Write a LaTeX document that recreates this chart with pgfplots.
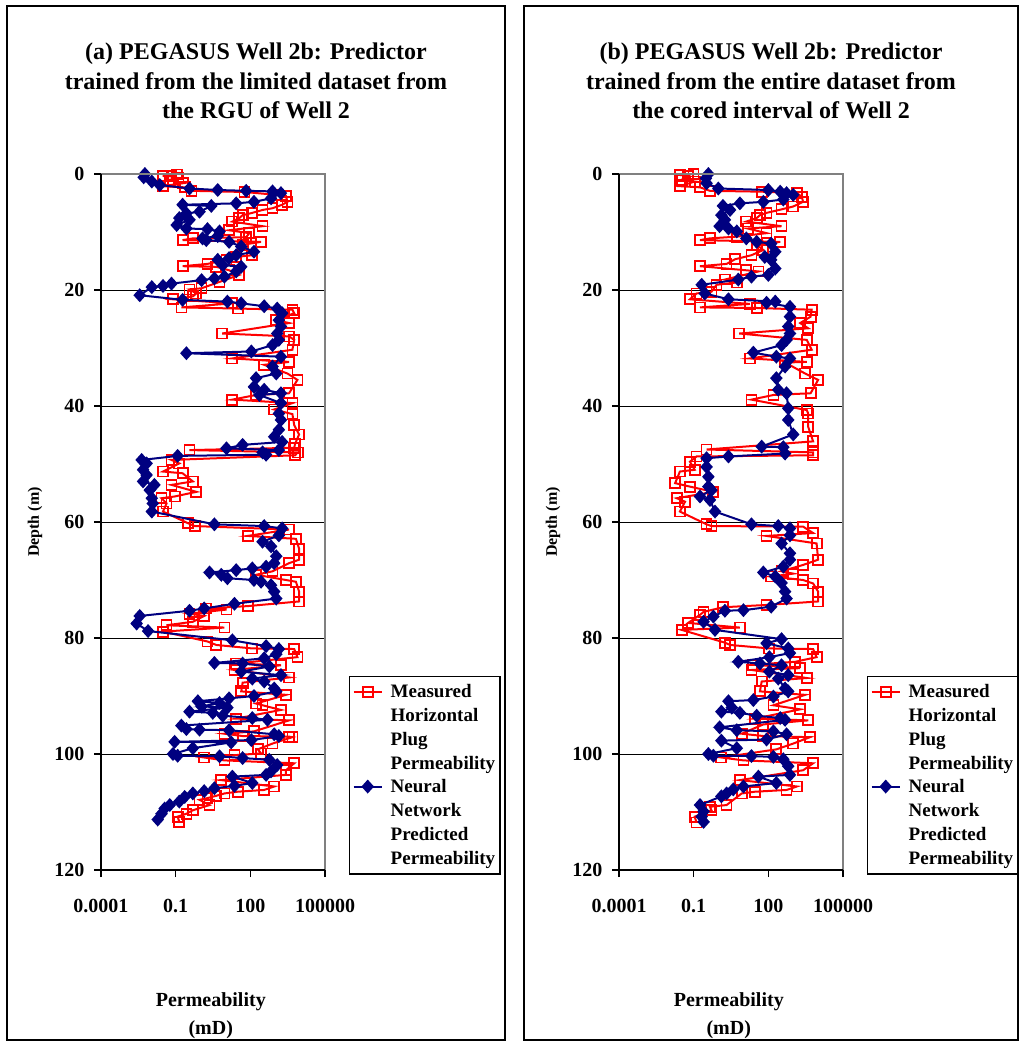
\documentclass[border=0pt]{standalone}
\usepackage{fontspec}
\setmainfont{Liberation Serif}
\usepackage{pgfplots}
\usepackage{pgfplotstable}
\pgfplotsset{compat=1.18}
\definecolor{mred}{RGB}{255,0,0}
\definecolor{mnavy}{RGB}{0,0,128}
\definecolor{agray}{RGB}{128,128,128}

\pgfplotstableread{
k depth
0.11 0.1
0.03 0.34
0.068 0.4
0.13 0.75
0.058 1.0
0.19 1.6
0.03 2.1
0.23 2.3
0.43 2.9
58 3.1
1100 3.6
2700 3.8
3100 4.8
1900 5.3
780 5.9
310 6.2
120 6.7
49 7.1
36 7.6
19 8.2
310 9.0
14 9.7
91 10.2
68 10.9
0.49 11.1
0.19 11.4
270 11.7
49 12.2
120 14.0
27 14.3
11 14.8
1.9 15.5
0.19 15.9
4.3 16.0
14 16.6
36 17.4
5.8 18.6
1.1 19.7
0.36 19.9
0.68 20.6
0.49 21.1
0.078 21.6
19 22.3
0.17 23.0
31 23.2
4900 23.4
5800 24.0
1100 25.2
3600 25.7
7.4 27.5
3600 28.0
5800 28.6
4900 30.3
19 31.8
3600 32.4
360 32.9
3100 34.4
7800 35.5
3600 37.8
170 38.1
19 38.9
4900 39.5
910 40.6
4900 41.4
5800 43.3
9100 44.9
6300 46.5
5800 47.2
0.36 47.6
8000 48.0
6300 48.5
0.068 49.3
0.14 49.9
0.031 51.3
0.19 51.6
0.49 53.0
0.068 53.6
0.68 54.8
0.091 55.6
0.027 55.9
0.043 56.8
0.031 58.2
0.31 60.2
0.58 60.7
3600 61.3
78 62.4
6800 62.9
9100 64.6
9100 66.5
3600 67.1
780 68.5
170 69.1
2700 70.0
6800 70.3
9100 72.0
9100 73.7
78 74.5
1.7 74.9
11 75.1
0.36 75.8
1.4 76.2
0.49 77.2
0.043 77.8
9.1 78.2
0.031 78.9
1.9 80.6
4.3 81.2
120 81.8
5800 81.9
7800 83.3
27 84.4
1700 84.7
23 85.5
3600 86.8
49 87.7
43 89.2
2700 89.8
170 91.3
310 91.6
1700 92.4
27 93.9
3600 94.2
140 96.1
9.1 96.5
49 96.9
3600 97.0
4900 97.1
780 98.2
200 99.2
270 99.9
23 100.2
1.4 100.6
9.1 101.1
5800 101.6
2700 102.8
2700 103.6
6.8 104.5
910 105.6
360 106.2
31 106.5
9.1 106.8
4.3 107.2
1.9 107.6
0.91 107.9
2.3 108.8
0.49 109.7
0.27 110.3
0.12 110.8
0.14 111.7
}\redA

\pgfplotstableread{
k depth
0.0058 0.0
0.0052 0.57
0.011 1.3
0.023 1.9
0.36 2.5
4.9 2.76
68 2.9
780 3.0
1700 3.3
680 4.2
140 4.8
27 5.06
0.19 5.3
2.7 5.5
0.91 6.5
0.27 6.8
0.14 7.6
0.36 7.9
0.11 8.8
0.27 9.4
1.9 9.5
5.8 9.9
4.9 10.7
1.2 11.1
1.7 11.4
14 11.7
43 12.5
140 13.4
27 14.0
14 14.5
4.9 14.8
7.8 15.7
43 16.0
27 16.8
9.1 17.7
3.6 18.0
1.1 18.3
0.068 18.9
0.031 19.3
0.011 19.5
0.0036 20.9
0.19 21.7
12 22.0
43 22.3
360 22.8
1200 23.2
1900 24.0
1400 25.2
1700 26.3
1200 27.5
1400 28.6
780 29.5
110 30.6
0.27 30.9
1700 31.5
780 33.2
1100 34.4
170 35.2
140 36.7
360 37.2
1700 37.8
230 38.1
1700 39.5
1400 41.3
1700 42.4
1400 44.1
910 45.3
1900 46.2
49 46.7
11 47.3
1400 47.6
310 48.0
430 48.4
0.12 48.6
0.0043 49.3
0.0068 49.9
0.0049 51.0
0.0068 51.9
0.0049 53.0
0.014 53.6
0.0091 54.5
0.011 55.9
0.012 56.8
0.011 58.2
3.6 60.4
360 60.7
1900 61.1
1400 62.3
310 63.4
680 64.2
1100 65.9
910 67.1
430 67.7
120 68.0
27 68.3
2.3 68.7
6.8 69.1
12 69.7
140 70.0
270 70.3
680 70.9
910 72.0
1100 73.2
23 74.1
1.4 74.9
0.36 75.3
0.0036 76.2
0.0027 77.5
0.0078 78.8
19 80.4
430 81.4
1400 81.9
1100 82.8
360 83.5
3.6 84.3
49 84.4
580 84.9
43 85.8
1700 86.4
120 87.0
360 87.5
910 88.7
1100 89.2
140 90.0
14 90.4
0.78 90.9
5.8 91.2
1.1 91.8
12 92.0
0.36 92.7
3.1 92.9
7.8 93.4
120 93.8
490 94.1
0.17 95.1
0.27 95.7
0.91 95.8
14 95.9
910 96.6
1400 96.9
110 97.6
0.091 97.9
17 98.0
0.49 99.0
0.078 100.0
0.12 100.3
5.8 100.4
49 100.7
580 101.0
1200 101.9
680 103.0
430 103.6
19 103.9
120 105.0
23 105.5
3.6 105.9
1.4 106.4
0.49 106.8
0.23 107.4
0.14 108.2
0.058 108.8
0.036 109.4
0.027 110.3
0.019 111.3
}\blueA

\pgfplotstableread{
k depth
0.098 0.0
0.028 0.17
0.06 0.3
0.033 1.0
0.11 1.3
0.028 2.1
0.18 2.3
0.45 2.9
54 3.05
1400 3.3
2200 3.9
2500 4.8
1000 5.6
340 6.1
85 6.7
46 7.1
34 7.6
13 8.2
340 9.0
15 9.4
85 10.2
5.4 10.8
0.45 11.1
0.18 11.4
300 11.7
34 12.2
63 13.1
21 14.0
4.6 14.7
2.1 15.5
0.18 15.9
13 16.6
40 16.8
1.8 18.2
5.4 18.7
0.83 19.1
0.52 20.3
0.13 20.6
0.071 21.6
18 22.4
0.18 23.0
34 23.1
5500 23.4
5000 24.6
1900 25.7
4000 26.6
6.8 27.5
3500 28.6
5500 30.3
18 31.8
3500 32.4
470 32.5
3000 34.4
10000 35.5
5000 37.8
160 38.1
21 38.9
3500 40.7
4000 41.3
4000 43.6
6300 46.1
0.33 47.5
6300 48.0
6300 48.5
0.13 48.7
0.071 49.6
0.11 51.0
0.028 51.3
0.018 53.3
0.071 53.9
0.62 54.8
0.021 55.9
0.045 56.5
0.028 58.2
0.33 60.4
0.52 60.7
2500 60.8
6300 61.9
85 62.4
8700 63.7
10000 66.5
2500 67.4
340 68.5
1000 68.9
130 69.4
2500 70.0
6300 70.6
10000 72.0
10000 73.7
85 74.3
1.5 74.7
0.25 75.5
0.18 76.0
0.06 77.4
7.2 78.2
0.033 78.6
1.8 80.8
2.9 81.2
110 81.8
6300 81.9
8700 83.3
1200 84.1
25 84.6
1900 85.2
21 85.5
3500 86.9
54 87.5
46 89.2
3000 89.8
160 91.6
1900 92.3
29 93.9
4000 94.2
63 94.9
8.5 96.5
63 96.9
4700 97.1
1000 98.2
210 99.2
1.3 100.6
10 101.1
6300 101.6
2500 102.8
7.2 104.5
1400 105.6
540 106.2
29 106.5
8.5 106.8
2.1 108.8
0.45 109.1
0.52 109.7
0.11 110.8
0.13 111.8
}\redB

\pgfplotstableread{
k depth
0.39 0.0
0.31 0.75
0.33 1.6
0.98 2.5
100 2.76
300 3.05
540 3.3
1000 3.6
400 4.4
63 4.8
7.2 5.06
1.5 5.5
2.9 6.2
1.3 7.1
1.8 7.9
1.1 9.0
2.5 9.4
5.4 9.9
13 11.1
34 11.7
130 12.0
190 13.4
72 14.3
130 14.8
190 16.3
100 17.4
21 17.7
6.2 18.2
0.21 19.1
0.28 20.6
2.5 21.6
190 22.0
85 22.2
740 22.9
740 24.6
630 26.3
740 27.5
540 28.6
340 29.5
25 30.8
210 31.5
740 31.8
470 33.2
210 35.2
250 37.2
540 37.8
630 40.4
630 42.4
1000 44.9
54 47.0
400 47.1
470 48.2
2.5 48.7
0.33 49.0
0.33 50.5
0.39 52.2
0.39 53.9
0.52 54.5
0.18 55.6
0.45 56.2
0.72 58.2
21 60.4
250 60.7
740 61.1
740 62.3
340 63.7
740 65.4
740 66.5
400 67.7
63 68.7
190 69.4
340 70.5
470 72.0
540 73.2
130 74.6
10 75.2
1.8 75.3
0.62 76.3
0.25 77.2
0.72 78.6
340 80.2
85 80.9
630 81.8
740 82.6
110 83.3
6.2 84.1
46 84.4
340 84.7
110 85.8
630 86.4
250 87.0
470 88.7
630 89.2
160 90.1
25 90.7
2.5 90.9
3.4 92.0
1.3 92.7
7.2 92.9
34 93.4
300 93.8
470 94.1
1.1 95.4
5.4 95.9
160 96.1
540 96.6
85 97.5
1.3 97.7
5.4 99.0
0.39 100.0
0.62 100.3
21 100.35
160 100.5
400 100.9
630 102.1
740 103.6
40 103.9
210 105.0
10 105.6
3.9 106.1
2.1 106.8
1.3 107.3
0.18 108.8
0.25 109.9
0.21 110.8
0.25 111.7
}\blueB

\begin{document}
\begin{tikzpicture}
\useasboundingbox (0bp,0bp) rectangle (1021bp,1042bp);
\fill[white] (0bp,0bp) rectangle (1021bp,1042bp);
\draw[black, line width=2bp] (7bp,2bp) rectangle (505bp,1036bp);
\draw[black, line width=2bp] (524bp,2bp) rectangle (1018bp,1036bp);

\node[font=\bfseries\fontsize{24bp}{29.5bp}\selectfont, align=center, anchor=north, inner sep=0pt] at (256bp,999bp)
  {(a) PEGASUS Well 2b: Predictor\\trained from the limited dataset from\\the RGU of Well 2};
\node[font=\bfseries\fontsize{24bp}{29.5bp}\selectfont, align=center, anchor=north, inner sep=0pt] at (771bp,999bp)
  {(b) PEGASUS Well 2b: Predictor\\trained from the entire dataset from\\the cored interval of Well 2};

\begin{axis}[at={(101bp,172bp)}, anchor=south west,
    scale only axis, width=224bp, height=696bp,
    xmode=log, xmin=1e-4, xmax=1e5,
    ymin=0, ymax=120, y dir=reverse,
    xtick={1e-4,1e-1,1e2,1e5}, xticklabels={0.0001,0.1,100,100000},
    ytick={0,20,40,60,80,100,120}, yticklabels={0,20,40,60,80,100,120},
    minor xtick={}, minor ytick={},
    tick align=outside, major tick length=7bp,
    tick style={black, line width=1.6bp},
    xtick pos=left, ytick pos=left,
    axis line style={draw=none},
    ymajorgrids=true, major grid style={black, line width=0.8bp},
    clip mode=individual,
    tick label style={font=\bfseries\fontsize{20bp}{24bp}\selectfont},
    xticklabel style={yshift=-19bp},
    yticklabel style={xshift=-6bp},
    ylabel={Depth (m)},
    ylabel style={font=\bfseries\fontsize{16bp}{19bp}\selectfont, at={(axis description cs:-0.295,0.5)}, anchor=center},
    xlabel={Permeability\\(mD)},
    xlabel style={font=\bfseries\fontsize{20bp}{28bp}\selectfont, align=center, at={(axis description cs:0.49,-0.176)}, anchor=north, inner sep=0pt},
    legend style={at={(axis description cs:1.107,0.279)}, anchor=north west, draw=black, line width=1.5bp, inner xsep=3bp, inner ysep=6bp, row sep=4bp, font=\bfseries\fontsize{19bp}{24bp}\selectfont, cells={align=left}},
    legend image code/.code={\draw[mark repeat=2, mark phase=2] plot coordinates {(0bp,36bp) (14bp,36bp) (28bp,36bp)}; \path (34bp,36bp);},
  ]
\addplot[color=mred, line width=2bp, mark=square, mark size=5bp, mark options={line width=1.8bp, fill=white}] table[x=k, y=depth] {\redA};
\addlegendentry{Measured\\Horizontal\\Plug\\Permeability}
\addplot[color=mnavy, line width=2bp, mark=diamond*, mark size=5.5bp, mark options={xscale=1.2}] table[x=k, y=depth] {\blueA};
\addlegendentry{Neural\\Network\\Predicted\\Permeability}
\draw[agray, line width=2bp] (axis description cs:0,1) -- (axis description cs:1,1) -- (axis description cs:1,0);
\draw[black, line width=2bp] (axis description cs:0,1) -- (axis description cs:0,0) -- (axis description cs:1,0);
\end{axis}

\begin{axis}[at={(619bp,172bp)}, anchor=south west,
    scale only axis, width=224bp, height=696bp,
    xmode=log, xmin=1e-4, xmax=1e5,
    ymin=0, ymax=120, y dir=reverse,
    xtick={1e-4,1e-1,1e2,1e5}, xticklabels={0.0001,0.1,100,100000},
    ytick={0,20,40,60,80,100,120}, yticklabels={0,20,40,60,80,100,120},
    minor xtick={}, minor ytick={},
    tick align=outside, major tick length=7bp,
    tick style={black, line width=1.6bp},
    xtick pos=left, ytick pos=left,
    axis line style={draw=none},
    ymajorgrids=true, major grid style={black, line width=0.8bp},
    clip mode=individual,
    tick label style={font=\bfseries\fontsize{20bp}{24bp}\selectfont},
    xticklabel style={yshift=-19bp},
    yticklabel style={xshift=-6bp},
    ylabel={Depth (m)},
    ylabel style={font=\bfseries\fontsize{16bp}{19bp}\selectfont, at={(axis description cs:-0.295,0.5)}, anchor=center},
    xlabel={Permeability\\(mD)},
    xlabel style={font=\bfseries\fontsize{20bp}{28bp}\selectfont, align=center, at={(axis description cs:0.49,-0.176)}, anchor=north, inner sep=0pt},
    legend style={at={(axis description cs:1.107,0.279)}, anchor=north west, draw=black, line width=1.5bp, inner xsep=3bp, inner ysep=6bp, row sep=4bp, font=\bfseries\fontsize{19bp}{24bp}\selectfont, cells={align=left}},
    legend image code/.code={\draw[mark repeat=2, mark phase=2] plot coordinates {(0bp,36bp) (14bp,36bp) (28bp,36bp)}; \path (34bp,36bp);},
  ]
\addplot[color=mred, line width=2bp, mark=square, mark size=5bp, mark options={line width=1.8bp, fill=white}] table[x=k, y=depth] {\redB};
\addlegendentry{Measured\\Horizontal\\Plug\\Permeability}
\addplot[color=mnavy, line width=2bp, mark=diamond*, mark size=5.5bp, mark options={xscale=1.2}] table[x=k, y=depth] {\blueB};
\addlegendentry{Neural\\Network\\Predicted\\Permeability}
\draw[agray, line width=2bp] (axis description cs:0,1) -- (axis description cs:1,1) -- (axis description cs:1,0);
\draw[black, line width=2bp] (axis description cs:0,1) -- (axis description cs:0,0) -- (axis description cs:1,0);
\end{axis}
\end{tikzpicture}
\end{document}
